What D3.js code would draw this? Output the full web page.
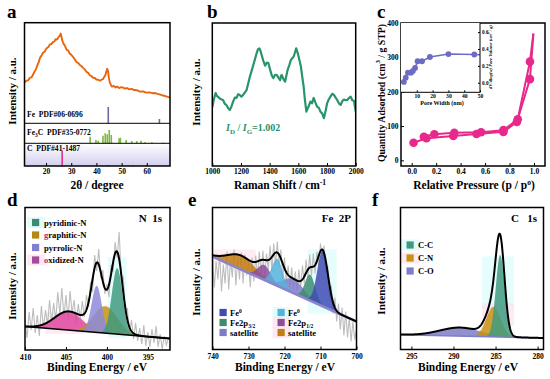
<!DOCTYPE html>
<html><head><meta charset="utf-8">
<script src="https://cdn.jsdelivr.net/npm/d3@7"></script>
<style>
body{margin:0;background:#fff}
svg{display:block}
text{font-family:"Liberation Serif","Times New Roman",serif;font-weight:bold}
</style>
</head><body><script>
// ---------------- DATA ----------------
// (a) XRD
const xrdAngle=[11.5,12.2,12.9,13.6,14.3,14.8,15.4,16.0,16.6,17.1,17.6,18.2,18.8,19.4,20.0,20.4,21.0,21.6,22.2,22.8,23.3,23.8,24.3,24.8,25.2,25.5,25.8,26.1,26.4,26.7,27.1,27.5,28.2,28.8,29.4,30.0,30.7,31.4,32.0,32.7,33.4,34.0,34.7,35.4,36.0,36.7,37.4,38.0,38.7,39.4,40.0,40.7,41.4,42.0,42.6,43.1,43.5,43.9,44.3,44.6,44.9,45.3,45.8,46.2,46.9,47.6,48.3,49.0,49.8,50.6,51.4,52.2,53.0,54.0,55.0,56.0,57.3,58.5,59.7,61.0,62.3,63.3,64.0,65.0,66.0,67.0,68.0,69.2];
const xrdIntensity=[58.5,59.5,59.8,61.5,62.0,63.7,65.8,67.6,70.5,72.4,75.5,77.0,79.0,79.8,81.6,82.4,83.2,85.0,85.1,86.6,86.8,88.5,88.2,89.4,90.6,90.8,92.4,90.5,87.8,86.4,84.9,83.9,81.0,80.6,78.5,77.6,76.2,74.4,72.8,71.9,70.5,69.8,68.5,67.4,65.8,65.0,63.3,62.8,61.6,61.4,60.3,60.2,59.5,60.2,60.6,62.2,63.2,65.8,67.8,66.2,62.0,58.4,56.4,55.3,55.9,54.8,55.4,54.4,55.0,54.7,54.0,54.4,53.5,53.8,53.0,52.9,51.9,52.0,51.2,51.4,50.8,50.9,50.5,50.0,49.4,49.0,48.4,47.7];
const feAngle=[44.7,65.0], feRel=[100,26];
const fe3cAngle=[37.5,39.8,40.7,42.6,43.5,44.3,45.1,45.9,49.0,49.5,51.8,54.0,56.0,57.7,59.3,62.0,66.5];
const fe3cRel=[50,25,20,57,75,68,100,62,38,42,25,18,18,20,10,8,6];
const cAngle=[26.4,42.2,44.4,54.6,59.8], cRel=[100,4,6,5,3];
const xrdTicks=[20,30,40,50,60];
const refLabels=["Fe  PDF#06-0696","Fe3C  PDF#35-0772","C  PDF#41-1487"];

// (b) Raman
const ramanShift=[1000,1012,1023,1032,1040,1055,1065,1075,1087,1098,1110,1122,1133,1145,1157,1169,1180,1192,1203,1215,1227,1239,1250,1262,1274,1286,1297,1309,1318,1328,1336,1344,1356,1368,1380,1391,1400,1407,1416,1426,1438,1450,1461,1473,1480,1485,1496,1508,1516,1525,1537,1548,1558,1567,1576,1585,1594,1602,1610,1618,1628,1637,1646,1656,1665,1675,1684,1695,1707,1719,1731,1743,1754,1766,1778,1790,1801,1812,1824,1836,1848,1860,1871,1883,1895,1906,1918,1930,1941,1953,1965,1976,1988,2000];
const ramanIntensity=[41,47,51,49,48.3,47,46.5,46.2,43.5,42.7,40.5,39.2,41.5,45,47.8,47.6,50.2,49.7,48.5,49.7,51.5,53.1,57.5,62.4,66.5,70.6,74.5,78.8,81.5,82.3,80.5,77.6,73.5,70.2,72.3,72,68.5,66,63,61.5,63.8,63.6,61.8,60.1,63.2,63.6,60.8,59,63,67.1,70.5,74.1,75.5,76.4,79.2,82.3,79.5,76.4,73,69.4,62,55.5,46,38,40.2,42.5,45,43.8,47.6,44.3,41.5,40.6,38,36.8,33.4,38.5,44,46.5,48.5,50.5,49.7,47.8,46.2,43.8,42.7,45.2,46.5,46,46.2,47.5,48.5,46,45.6,38];
const ramanTicks=[1000,1200,1400,1600,1800,2000];

// (c) N2 isotherm + pore size distribution
const adsP=[0.015,0.12,0.34,0.53,0.75,0.86,0.967,0.995];
const adsQ=[51.4,64.2,71,77,83,112,237,370];
const desP=[0.995,0.967,0.867,0.75,0.567,0.348,0.185,0.10];
const desQ=[370,288,119.7,88,81.8,80.6,75.9,68.9];
const poreWidth=[1.8,3.0,4.4,6.3,7.5,8.9,10.5,13.3,18.3,30,46.4];
const poreVolume=[0.01,0.06,0.12,0.12,0.14,0.175,0.255,0.255,0.305,0.34,0.335];
const isoXTicks=[0,0.2,0.4,0.6,0.8,1.0], isoYTicks=[0,100,200,300,400];
const poreXTicks=[10,20,30,40,50], poreYTicks=[0,0.2,0.4,0.6];

// (d) N 1s XPS
const n1sBE=[410,409.75,409.5,409.25,409,408.75,408.5,408.25,408,407.75,407.5,407.25,407,406.75,406.5,406.25,406,405.75,405.5,405.25,405,404.75,404.5,404.25,404,403.75,403.5,403.25,403,402.75,402.5,402.25,402,401.75,401.5,401.25,401,400.75,400.5,400.25,400,399.75,399.5,399.25,399,398.75,398.5,398.25,398,397.75,397.5,397.25,397,396.75,396.5,396.25,396,395.75,395.5,395.25,395,394.75,394.5,394.25,394,393.75,393.5,393.25,393,392.75,392.5];
const n1sRaw=[30,12,38,20,42,17,35,14,44,22,40,25,50,27,47,30,58,36,62,33,55,30,59,37,50,26,46,31,49,33,55,43,68,58,95,79,101,72,80,56,66,53,85,78,108,92,118,71,73,37,42,16,30,11,27,9,22,6,25,4,18,3,21,7,24,3,16,1,14,5,12];
const n1sNames=["pyridinic-N","graphitic-N","pyrrolic-N","oxidized-N"];
const n1sCenter=[398.75,400.2,401.25,404.7];
const n1sHeight=[66,27,46.7,18.5];
const n1sSigma=[0.65,1.45,0.62,1.7];
const n1sBaseline=[23.5,11.5];
const n1sTicks=[410,405,400,395];

// (e) Fe 2p XPS
const fe2pBE=[740,739.5,739,738.5,738,737.5,737,736.5,736,735.5,735,734.5,734,733.5,733,732.5,732,731.5,731,730.5,730,729.5,729,728.5,728,727.5,727,726.5,726,725.5,725,724.5,724,723.5,723,722.5,722,721.5,721,720.5,720,719.5,719,718.5,718,717.5,717,716.5,716,715.5,715,714.5,714,713.5,713,712.5,712,711.5,711,710.5,710,709.5,709,708.5,708,707.5,707,706.5,706,705.5,705,704.5,704,703.5,703,702.5,702,701.5,701,700.5,700];
const fe2pRaw=[92,62,88,70,95,58,85,66,98,60,90,72,100,64,92,70,97,66,95,74,88,62,92,68,94,72,98,75,99,70,96,80,104,78,106,84,108,82,100,70,92,66,84,62,82,60,78,58,80,62,84,66,90,72,95,74,96,76,98,84,106,90,104,76,84,52,64,36,52,28,46,20,42,14,38,12,32,8,28,10,20];
const fe2pNames=["Fe0","Fe2p3/2","satellite","Fe0","Fe2p1/2","satellite"];
const fe2pCenter=[709.4,712.9,717.5,722.0,725.6,732.0];
const fe2pHeight=[55,26,14,27,15,14];
const fe2pSigma=[1.5,1.4,2.8,1.5,1.8,3.8];
const fe2pBaseline=[92.8,28];
const fe2pTicks=[740,730,720,710,700];

// (f) C 1s XPS
const c1sNames=["C-C","C-N","C-O"];
const c1sCenter=[284.45,285.25,289.2];
const c1sHeight=[82,30,8.5];
const c1sSigma=[0.52,0.85,2.4];
const c1sBaseline=[14.8,11.5];
const c1sTicks=[295,290,285,280];

// ---------------- LAYOUT / STYLE ----------------
const FR={
 a:{x0:24.5,x1:170,y0:22.7,y1:166},
 b:{x0:212.3,x1:355.7,y0:23,y1:166},
 c:{x0:401,x1:545,y0:23,y1:166},
 d:{x0:25,x1:170,y0:207.5,y1:350},
 e:{x0:212.5,x1:356.5,y0:207.5,y1:349.5},
 f:{x0:400.5,x1:543.5,y0:207.5,y1:349.5}
};
const FONT='"Liberation Serif","Times New Roman",serif';
const svg=d3.select("body").append("svg").attr("width",550).attr("height",379);
const defs=svg.append("defs");

function panel(id){
  const b=FR[id];
  defs.append("clipPath").attr("id","clip-"+id).append("rect")
    .attr("x",b.x0).attr("y",b.y0).attr("width",b.x1-b.x0).attr("height",b.y1-b.y0);
  const g=svg.append("g");
  const plot=g.append("g").attr("clip-path",`url(#clip-${id})`);
  return {g,plot,b};
}
function border(g,b){
  g.append("rect").attr("x",b.x0).attr("y",b.y0).attr("width",b.x1-b.x0).attr("height",b.y1-b.y0)
   .attr("fill","none").attr("stroke","#000").attr("stroke-width",1.5);
}
function styleAxis(a,fs){
  a.select(".domain").remove();
  a.selectAll("line").attr("stroke","#000").attr("stroke-width",1);
  a.selectAll("text").attr("font-size",fs).attr("font-family",FONT).attr("font-weight","bold").attr("fill","#000");
}
function xAxis(g,scale,y,vals,fmt,fs,pad,ts){
  const ax=d3.axisBottom(scale).tickValues(vals).tickSize(-(ts||3)).tickPadding(pad).tickFormat(fmt||d3.format("d"));
  const a=g.append("g").attr("transform",`translate(0,${y})`).call(ax);
  styleAxis(a,fs); return a;
}
function letter(t,x,y){
  svg.append("text").attr("x",x).attr("y",y).attr("font-size",19).text(t);
}
function ylabel(t,x,y,fs){
  return svg.append("text").attr("transform",`translate(${x},${y}) rotate(-90)`).attr("text-anchor","middle")
    .attr("dominant-baseline","central").attr("font-size",fs||11).text(t);
}
function xlabel(x,y,fs){
  return svg.append("text").attr("x",x).attr("y",y).attr("text-anchor","middle").attr("font-size",fs||11.5);
}
function gauss(x,c,h,s){const z=(x-c)/s;return h*Math.exp(-0.5*z*z);}

// ================= (a) =================
{
  const {g,plot,b}=panel("a");
  const x=d3.scaleLinear().domain([11.45,69.2]).range([b.x0,b.x1]);
  const y=d3.scaleLinear().domain([0,100]).range([b.y1,b.y0]);
  const div1=123.3, div2=143.3;
  const grad=defs.append("linearGradient").attr("id","cgrad").attr("x1",0).attr("y1",0).attr("x2",0).attr("y2",1);
  grad.append("stop").attr("offset","0%").attr("stop-color","#ffffff");
  grad.append("stop").attr("offset","100%").attr("stop-color","#d3cfee");
  plot.append("rect").attr("x",b.x0).attr("y",div2).attr("width",b.x1-b.x0).attr("height",b.y1-div2).attr("fill","url(#cgrad)");
  plot.append("path").datum(xrdAngle.map((a,i)=>[a,xrdIntensity[i]]))
    .attr("d",d3.line().x(d=>x(d[0])).y(d=>y(d[1])))
    .attr("fill","none").attr("stroke","#e8650e").attr("stroke-width",1.9).attr("stroke-linejoin","round");
  const sticks=(ang,rel,base,top,col)=>{
    const ys=d3.scaleLinear().domain([0,100]).range([base,top]);
    plot.selectAll(null).data(ang.map((a,i)=>[a,rel[i]])).enter().append("line")
      .attr("x1",d=>x(d[0])).attr("x2",d=>x(d[0])).attr("y1",base).attr("y2",d=>ys(d[1]))
      .attr("stroke",col).attr("stroke-width",1.6);
  };
  sticks(feAngle,feRel,div1,107,"#6b6aa6");
  sticks(fe3cAngle,fe3cRel,div2,130,"#7cb83c");
  sticks(cAngle,cRel,b.y1,150.5,"#e0308c");
  [div1,div2].forEach(v=>g.append("line").attr("x1",b.x0).attr("x2",b.x1).attr("y1",v).attr("y2",v).attr("stroke","#000").attr("stroke-width",1));
  g.append("text").attr("x",27).attr("y",117).attr("font-size",7.6).attr("xml:space","preserve").text(refLabels[0]);
  const t2=g.append("text").attr("x",27).attr("y",135).attr("font-size",7.6).attr("xml:space","preserve");
  t2.append("tspan").text("Fe");t2.append("tspan").attr("dy",1.8).attr("font-size",5.5).text("3");
  t2.append("tspan").attr("dy",-1.8).text("C  PDF#35-0772");
  g.append("text").attr("x",27).attr("y",150.5).attr("font-size",7.6).attr("xml:space","preserve").text(refLabels[2]);
  border(g,b);
  xAxis(g,x,b.y1,xrdTicks,null,7.5,3);
  ylabel("Intensity / a.u.",12,91);
  const xl=xlabel(97,189);
  xl.append("tspan").text("2θ / degree");
  letter("a",7,18);
}
// ================= (b) =================
{
  const {g,plot,b}=panel("b");
  const x=d3.scaleLinear().domain([1000,2000]).range([b.x0,b.x1]);
  const y=d3.scaleLinear().domain([0,100]).range([b.y1,b.y0]);
  plot.append("path").datum(ramanShift.map((s,i)=>[s,ramanIntensity[i]]))
    .attr("d",d3.line().x(d=>x(d[0])).y(d=>y(d[1])))
    .attr("fill","none").attr("stroke","#27946a").attr("stroke-width",2.2).attr("stroke-linejoin","round");
  const t=g.append("text").attr("x",226).attr("y",131).attr("font-size",10).attr("fill","#27946a");
  t.append("tspan").attr("font-style","italic").text("I");
  t.append("tspan").attr("dy",2.5).attr("font-size",7).text("D");
  t.append("tspan").attr("dy",-2.5).text(" / ");
  t.append("tspan").attr("font-style","italic").text("I");
  t.append("tspan").attr("dy",2.5).attr("font-size",7).text("G");
  t.append("tspan").attr("dy",-2.5).text("=1.002");
  border(g,b);
  xAxis(g,x,b.y1,ramanTicks,null,7.5,3);
  ylabel("Intensity / a.u.",196,92);
  const xl=xlabel(280,189);
  xl.append("tspan").text("Raman Shift / cm");
  xl.append("tspan").attr("dy",-4).attr("font-size",7.5).text("-1");
  letter("b",207,18);
}
// ================= (c) =================
{
  const {g,plot,b}=panel("c");
  const x=d3.scaleLinear().domain([-0.0875,1.09]).range([b.x0,b.x1]);
  const y=d3.scaleLinear().domain([-16.6,400.8]).range([b.y1,b.y0]);
  const col="#e8288a";
  const ads=adsP.map((p,i)=>[p,adsQ[i]]), des=desP.map((p,i)=>[p,desQ[i]]);
  const lnD=d3.line().x(d=>x(d[0])).y(d=>y(d[1]));
  plot.append("path").datum(ads).attr("d",lnD).attr("fill","none").attr("stroke",col).attr("stroke-width",2);
  plot.append("path").datum(des).attr("d",lnD).attr("fill","none").attr("stroke",col).attr("stroke-width",2);
  plot.selectAll(null).data(ads.slice(0,-1).concat(des.slice(1))).enter().append("circle")
    .attr("cx",d=>x(d[0])).attr("cy",d=>y(d[1])).attr("r",4.3).attr("fill",col);
  border(g,b);
  xAxis(g,x,b.y1,isoXTicks,d3.format(".1f"),7.5,3);
  const ya=g.append("g").attr("transform",`translate(${b.x0},0)`)
    .call(d3.axisLeft(y).tickValues(isoYTicks).tickSize(-3).tickPadding(2.5).tickFormat(d3.format("d")));
  styleAxis(ya,7.5);
  // inset
  const ib={x0:b.x0,x1:480,y0:b.y0,y1:92.3};
  const ix=d3.scaleLinear().domain([0,50]).range([ib.x0,ib.x1]);
  const iy=d3.scaleLinear().domain([-0.113,0.708]).range([ib.y1,ib.y0]);
  g.append("rect").attr("x",ib.x0).attr("y",ib.y0).attr("width",ib.x1-ib.x0).attr("height",ib.y1-ib.y0).attr("fill","#fff");
  const pd=poreWidth.map((w,i)=>[w,poreVolume[i]]);
  g.append("path").datum(pd.concat([[50,0.333]])).attr("d",d3.line().x(d=>ix(d[0])).y(d=>iy(d[1])))
    .attr("fill","none").attr("stroke","#6c6cc2").attr("stroke-width",1.5);
  g.selectAll(null).data(pd).enter().append("circle").attr("cx",d=>ix(d[0])).attr("cy",d=>iy(d[1])).attr("r",2.9).attr("fill","#6c6cc2");
  g.append("path").attr("d",`M${ib.x0},${ib.y1}H${ib.x1}V${ib.y0}`).attr("fill","none").attr("stroke","#000").attr("stroke-width",1);
  const ixa=g.append("g").attr("transform",`translate(0,${ib.y1})`)
    .call(d3.axisBottom(ix).tickValues(poreXTicks).tickSize(-2).tickPadding(1.5).tickFormat(d3.format("d")));
  styleAxis(ixa,5.6);
  const iya=g.append("g").attr("transform",`translate(${ib.x1},0)`)
    .call(d3.axisRight(iy).tickValues(poreYTicks).tickSize(-2).tickPadding(2).tickFormat(d3.format(".1f")));
  styleAxis(iya,5.2);
  g.append("text").attr("x",442).attr("y",104.5).attr("text-anchor","middle").attr("font-size",6).text("Pore Width (nm)");
  const rt=g.append("text").attr("transform","translate(490,57) rotate(-90)").attr("text-anchor","middle")
    .attr("dominant-baseline","central").attr("font-size",4.6).attr("font-style","italic");
  rt.append("tspan").text("dV/dlog(w) Pore Volume (cm");
  rt.append("tspan").attr("dy",-1.5).attr("font-size",3.4).text("3");
  rt.append("tspan").attr("dy",1.5).text(" / g)");
  const yl=ylabel("",381,93,9.8);
  yl.append("tspan").text("Quantity Adsorbed (cm");
  yl.append("tspan").attr("dy",-3.5).attr("font-size",7).text("3");
  yl.append("tspan").attr("dy",3.5).text(" / g STP)");
  const xl=xlabel(474,189);
  xl.append("tspan").text("Relative Pressure (p / p");
  xl.append("tspan").attr("dy",-4).attr("font-size",7.5).text("o");
  xl.append("tspan").attr("dy",4).text(")");
  letter("c",377,18);
}
// ================= XPS helper =================
function xps(id,dom,base,centers,heights,sigmas,fills,order){
  const P=panel(id); const b=P.b;
  const x=d3.scaleLinear().domain(dom).range([b.x0,b.x1]);
  const y=d3.scaleLinear().domain([0,b.y1-b.y0]).range([b.y1,b.y0]);
  const baseAt=be=>base[0]+(base[1]-base[0])*(be-dom[0])/(dom[1]-dom[0]);
  const grid=d3.range(0,601).map(i=>dom[0]+(dom[1]-dom[0])*i/600);
  const env=be=>baseAt(be)+d3.sum(centers.map((c,i)=>gauss(be,c,heights[i],sigmas[i])));
  return {P,x,y,baseAt,grid,env,
    drawFills(plot){
      order.forEach(i=>{
        plot.append("path").datum(grid.filter(be=>gauss(be,centers[i],heights[i],sigmas[i])>0.05))
          .attr("d",d3.area().x(be=>x(be)).y0(be=>y(baseAt(be))).y1(be=>y(baseAt(be)+gauss(be,centers[i],heights[i],sigmas[i]))))
          .attr("fill",fills[i]).attr("fill-opacity",0.85);
      });
    },
    drawEnv(plot){
      plot.append("path").datum(grid).attr("d",d3.line().x(be=>x(be)).y(be=>y(env(be))))
        .attr("fill","none").attr("stroke","#000").attr("stroke-width",2);
    },
    drawBase(plot,col,w){
      plot.append("line").attr("x1",x(dom[0])).attr("x2",x(dom[1])).attr("y1",y(base[0])).attr("y2",y(base[1]))
        .attr("stroke",col).attr("stroke-width",w);
    },
    halo(plot,be0,be1,v0,v1,col){
      plot.append("rect").attr("x",Math.min(x(be0),x(be1))).attr("width",Math.abs(x(be1)-x(be0)))
        .attr("y",y(v1)).attr("height",y(v0)-y(v1)).attr("fill",col).attr("opacity",0.6);
    }
  };
}
function legendItem(g,x0,yc,col,halo){
  if(halo) g.append("rect").attr("x",x0-5).attr("y",yc-5.5).attr("width",18).attr("height",11).attr("fill",halo).attr("opacity",0.7);
  g.append("rect").attr("x",x0).attr("y",yc-3.6).attr("width",7.2).attr("height",7.2).attr("fill",col);
}
// ================= (d) =================
{
  const fills=["#3f9a80","#c29412","#8d89dc","#e0479f"];
  const leg=["#3c8c74","#b38a12","#8480d0","#a44b9b"];
  const X=xps("d",[410,392.3],n1sBaseline,n1sCenter,n1sHeight,n1sSigma,fills,[3,1,2,0]);
  const {g,plot,b}=X.P;
  X.halo(plot,399.9,397.6,12,93,"#d6fbfb");
  X.halo(plot,407.5,402.8,16,38,"#fde0ee");
  plot.append("path").datum(n1sBE.map((be,i)=>[be,n1sRaw[i]])).attr("d",d3.line().x(d=>X.x(d[0])).y(d=>X.y(d[1])))
    .attr("fill","none").attr("stroke","#bdbdbd").attr("stroke-width",1.1);
  X.drawFills(plot);
  X.drawBase(plot,"#000",1.5);
  X.drawEnv(plot);
  const ys=[222.5,235,247.5,260];
  n1sNames.forEach((n,i)=>{
    legendItem(g,32,ys[i],leg[i],i===0?"#d6fbfb":(i===3?"#fde0ee":null));
    const t=g.append("text").attr("x",44).attr("y",ys[i]+3).attr("font-size",8.6);
    if(i===1||i===3){t.append("tspan").attr("fill","#c8186a").text(n[0]);t.append("tspan").text(n.slice(1));}
    else t.text(n);
  });
  g.append("text").attr("x",162).attr("y",222).attr("text-anchor","end").attr("font-size",11).attr("xml:space","preserve").text("N  1s");
  border(g,b);
  xAxis(g,X.x,b.y1,n1sTicks,null,7.5,4.5);
  ylabel("Intensity / a.u.",12,286);
  xlabel(97,371).text("Binding Energy / eV");
  letter("d",7,206);
}
// ================= (e) =================
{
  const fills=["#3f4bb3","#3d8b72","#7f7bca","#56b1db","#8c4c9a","#c47d12"];
  const X=xps("e",[740,700],fe2pBaseline,fe2pCenter,fe2pHeight,fe2pSigma,fills,[5,2,4,3,1,0]);
  const {g,plot,b}=X.P;
  X.halo(plot,713.5,705.5,36,100,"#d6fbfb");
  X.halo(plot,740,728,85,100,"#fde0ee");
  plot.append("path").datum(fe2pBE.map((be,i)=>[be,fe2pRaw[i]])).attr("d",d3.line().x(d=>X.x(d[0])).y(d=>X.y(d[1])))
    .attr("fill","none").attr("stroke","#bdbdbd").attr("stroke-width",1.1);
  X.drawFills(plot);
  X.drawBase(plot,"#8a84cc",2.5);
  X.drawEnv(plot);
  const rows=[312.5,322.5,332.5];
  const cols=[219.5,277.5];
  const halos=[null,null,null,"#d6fbfb","#fde0ee","#fde0ee"];
  fe2pNames.forEach((n,i)=>{
    const cx=cols[Math.floor(i/3)], yc=rows[i%3];
    legendItem(g,cx,yc,fills[i],halos[i]);
    const t=g.append("text").attr("x",cx+10.5).attr("y",yc+3).attr("font-size",8.6);
    if(n==="Fe0"){t.append("tspan").text("Fe");t.append("tspan").attr("dy",-3).attr("font-size",5.5).text("0");}
    else if(n.startsWith("Fe2p")){t.append("tspan").text("Fe2p");t.append("tspan").attr("dy",2).attr("font-size",5.5).text(n.slice(4));}
    else t.text(n);
  });
  g.append("text").attr("x",351).attr("y",222).attr("text-anchor","end").attr("font-size",11).attr("xml:space","preserve").text("Fe  2P");
  border(g,b);
  xAxis(g,X.x,b.y1,fe2pTicks,null,7.5,4.5);
  ylabel("Intensity / a.u.",196,282);
  xlabel(285,371).text("Binding Energy / eV");
  letter("e",188,206);
}
// ================= (f) =================
{
  const fills=["#3f9a80","#c7920f","#7f7cc8"];
  const X=xps("f",[296.3,279.3],c1sBaseline,c1sCenter,c1sHeight,c1sSigma,fills,[2,1,0]);
  const {g,plot,b}=X.P;
  X.halo(plot,286.6,282.8,40,93,"#d6fbfb");
  X.halo(plot,286.6,282.8,24,46,"#fde0ee");
  X.drawFills(plot);
  X.drawBase(plot,"#7f7cc8",1.5);
  X.drawEnv(plot);
  const ys=[245,258,271];
  const halos=["#d6fbfb","#fde0ee",null];
  c1sNames.forEach((n,i)=>{
    legendItem(g,406.5,ys[i],fills[i],halos[i]);
    g.append("text").attr("x",418).attr("y",ys[i]+3).attr("font-size",8.6).text(n);
  });
  g.append("text").attr("x",537).attr("y",222).attr("text-anchor","end").attr("font-size",11).attr("xml:space","preserve").text("C   1s");
  border(g,b);
  xAxis(g,X.x,b.y1,c1sTicks,null,7.5,4.5);
  ylabel("Intensity / a.u.",381,281);
  xlabel(468,371).text("Binding Energy / eV");
  letter("f",372,206);
}
</script></body></html>
